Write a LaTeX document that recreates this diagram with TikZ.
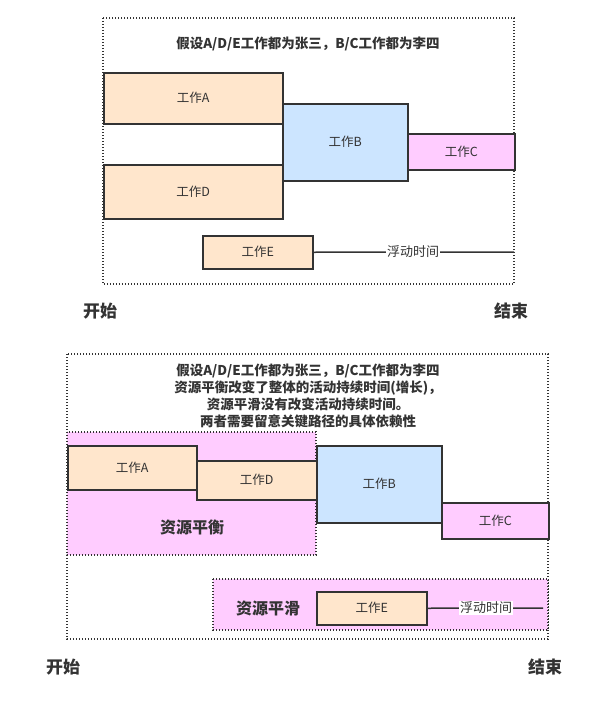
\documentclass[tikz,border=0pt]{standalone}
\usepackage{fontspec}
\setmainfont{Noto Sans CJK SC}
\definecolor{linec}{HTML}{333333}
\definecolor{orangef}{HTML}{FFE6CC}
\definecolor{bluef}{HTML}{CCE5FF}
\definecolor{pinkf}{HTML}{FFCCFF}
\begin{document}
\begin{tikzpicture}[x=1pt,y=-1pt,
  box/.style={draw=linec, line width=1.5pt, anchor=north west, inner sep=0pt, text=linec, font=\fontsize{12.5}{14}\selectfont},
  orangebox/.style={box, fill=orangef},
  bluebox/.style={box, fill=bluef},
  pinkbox/.style={box, fill=pinkf},
  frame/.style={draw=linec, line width=1.2pt, dash pattern=on 1.3pt off 1.7pt},
  region/.style={frame, fill=pinkf},
  titletext/.style={text=linec, font=\bfseries\fontsize{13.5}{17}\selectfont, align=center, inner sep=0pt},
  endtext/.style={text=linec, font=\bfseries\fontsize{17}{20}\selectfont},
  regiontext/.style={text=linec, font=\bfseries\fontsize{16}{19}\selectfont},
  floatline/.style={draw=linec, line width=1.5pt},
  floattext/.style={fill=white, inner sep=1pt, text=linec, font=\fontsize{13}{15}\selectfont}
]
\useasboundingbox (0,0) rectangle (609,709);
% ---------- top diagram ----------
\draw[frame] (103,18) rectangle (514,284);
\node[titletext] (t1) at (308,44) {假设A/D/E工作都为张三，B/C工作都为李四};
\node[orangebox, minimum width=179pt, minimum height=51pt] (A1) at (103,72) {工作A};
\node[orangebox, minimum width=179pt, minimum height=54pt] (D1) at (103,164) {工作D};
\node[bluebox, minimum width=125pt, minimum height=77pt] (B1) at (282,103) {工作B};
\node[pinkbox, minimum width=107pt, minimum height=36pt] (C1) at (407,133) {工作C};
\node[orangebox, minimum width=110pt, minimum height=33pt] (E1) at (202,235) {工作E};
\coordinate (F1) at (514,252);
\draw[floatline] (E1.east) -- (F1);
\node[floattext] (ft1) at (413,252) {浮动时间};
\node[endtext] (s1) at (100,311) {开始};
\node[endtext] (e1) at (511,311) {结束};
% ---------- bottom diagram ----------
\draw[frame] (67,354) rectangle (548,639);
\node[titletext] (t2) at (308,395.5) {假设A/D/E工作都为张三，B/C工作都为李四\\资源平衡改变了整体的活动持续时间(增长)，\\资源平滑没有改变活动持续时间。\\两者需要留意关键路径的具体依赖性};
\draw[region] (67,432) rectangle (316,555);
\draw[region] (213,579) rectangle (548,630);
\node[orangebox, minimum width=129pt, minimum height=44pt] (A2) at (67,445) {工作A};
\node[orangebox, minimum width=120pt, minimum height=39pt] (D2) at (196,460) {工作D};
\node[bluebox, minimum width=125pt, minimum height=77pt] (B2) at (316,445) {工作B};
\node[pinkbox, minimum width=107pt, minimum height=36pt] (C2) at (441,502) {工作C};
\node[regiontext] (r1) at (192,527) {资源平衡};
\node[regiontext] (r2) at (268,608) {资源平滑};
\node[orangebox, minimum width=110pt, minimum height=33pt] (E2) at (316,591) {工作E};
\coordinate (F2) at (543,608);
\draw[floatline] (E2.east) -- (F2);
\node[floattext] (ft2) at (486,608) {浮动时间};
\node[endtext] (s2) at (63,667) {开始};
\node[endtext] (e2) at (545,667) {结束};
\end{tikzpicture}
\end{document}
